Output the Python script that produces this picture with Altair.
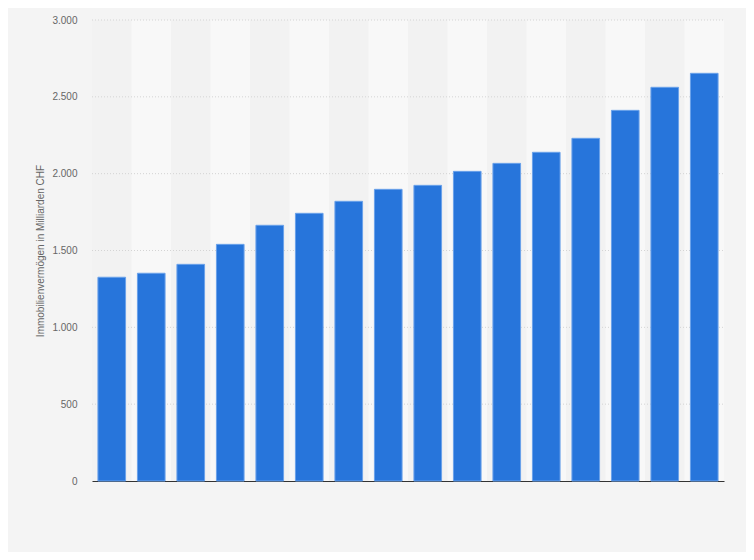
import altair as alt
import pandas as pd

years = ["2005", "2006", "2007", "2008", "2009", "2010", "2011", "2012",
         "2013", "2014", "2015", "2016", "2017", "2018", "2019", "2020"]
values = [1326, 1352, 1410, 1540, 1664, 1742, 1820, 1898,
          1924, 2015, 2067, 2139, 2230, 2412, 2562, 2653]
grid_ticks = [500, 1000, 1500, 2000, 2500, 3000]

df = pd.DataFrame({"year": years, "value": values,
                   "band": [i % 2 for i in range(len(years))]})
grid_df = pd.DataFrame({"v": grid_ticks})

W, H = 632, 461

xenc = alt.X("year:N", sort=years,
             scale=alt.Scale(paddingInner=0, paddingOuter=0),
             axis=alt.Axis(labels=False, ticks=False, title=None,
                           domainColor="#333333", domainWidth=1, grid=False))

yscale = alt.Scale(domain=[0, 3000], nice=False)

bands = alt.Chart(df).mark_bar().encode(
    x=xenc,
    y=alt.value(0),
    y2=alt.value(H),
    color=alt.Color("band:N", scale=alt.Scale(domain=[0, 1], range=["#f2f2f2", "#f8f8f8"]), legend=None),
)

grid = alt.Chart(grid_df).mark_rule(color="#d4d4d4", strokeDash=[1, 2], strokeWidth=1).encode(
    y=alt.Y("v:Q", scale=yscale),
    x=alt.value(0),
    x2=alt.value(W),
)

bars = alt.Chart(df).mark_bar(
    width=alt.RelativeBandSize(0.7),
    color="#2775db",
    stroke="#6aa2ea",
    strokeWidth=1,
).encode(
    x=xenc,
    y=alt.Y("value:Q", scale=yscale,
            axis=alt.Axis(values=grid_ticks + [0], grid=False, ticks=False, domain=False,
                          labelExpr="replace(format(datum.value, ','), ',', '.')",
                          labelColor="#666666", labelFontSize=10, labelPadding=15,
                          labelFont="Liberation Sans",
                          title="Immobilienvermögen in Milliarden CHF",
                          titleColor="#666666", titleFontSize=10, titleFontWeight="normal",
                          titleFont="Liberation Sans",
                          titleX=-52, titleY=H / 2, titleAlign="center",
                          titleBaseline="middle", titleAngle=-90)),
)

chart = alt.layer(bands, grid, bars).properties(
    width=W, height=H,
    background="#f4f4f4",
    autosize=alt.AutoSizeParams(type="none"),
    padding={"left": 84, "top": 12, "right": 22, "bottom": 71},
).configure_view(stroke=None)

chart.save("out.html", embed_options={"renderer": "svg", "actions": False})
